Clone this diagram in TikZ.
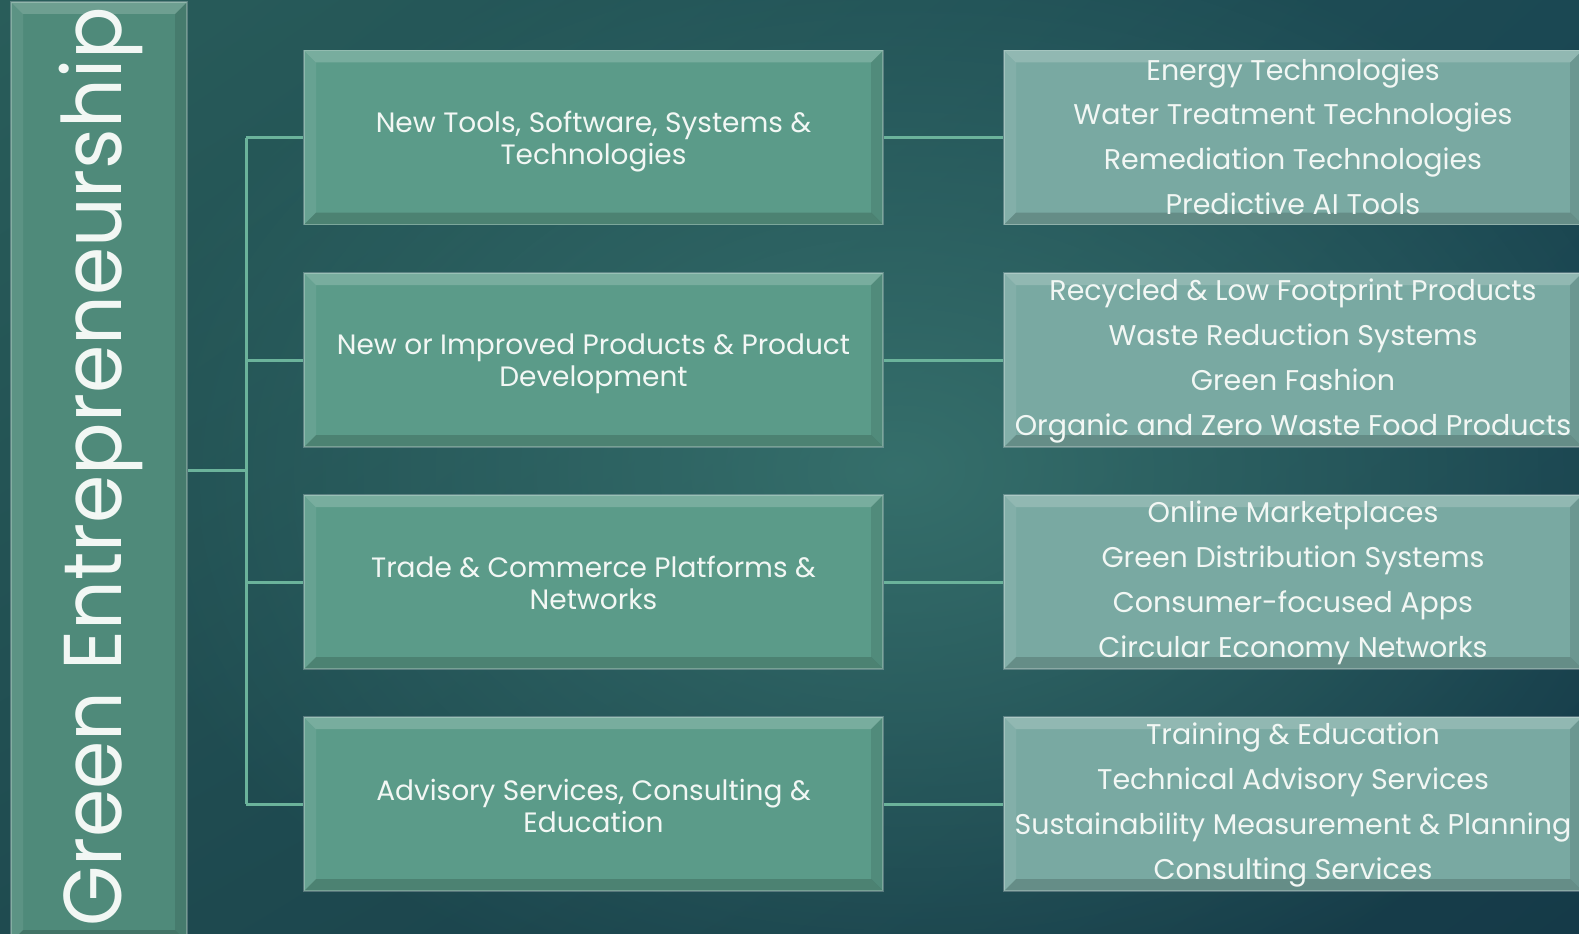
\documentclass[tikz,border=0pt]{standalone}
\usepackage{fontspec}
\usetikzlibrary{shadings,fadings}
\setmainfont{Poppins}
\newfontfamily\titlefont[FakeStretch=0.948]{Poppins}
\definecolor{bgA}{HTML}{295D5A}
\definecolor{bgB}{HTML}{1B4853}
\definecolor{bgC}{HTML}{1F4B50}
\definecolor{bgD}{HTML}{153A48}
\definecolor{bgL}{HTML}{3A7670}
\definecolor{leftc}{HTML}{4F8A7A}
\definecolor{midc}{HTML}{5B9B89}
\definecolor{rightc}{HTML}{79A9A2}
\definecolor{linec}{HTML}{6BB39B}
\definecolor{txt}{HTML}{F2F7F4}
\tikzfading[name=softglow, inner color=transparent!0, outer color=transparent!100]
\tikzset{
  bevel/.style={path picture={
    \fill[white,opacity=.18] (path picture bounding box.north west) -- (path picture bounding box.north east) -- ([xshift=-#1,yshift=-#1]path picture bounding box.north east) -- ([xshift=#1,yshift=-#1]path picture bounding box.north west) -- cycle;
    \fill[white,opacity=.08] (path picture bounding box.north west) -- (path picture bounding box.south west) -- ([xshift=#1,yshift=#1]path picture bounding box.south west) -- ([xshift=#1,yshift=-#1]path picture bounding box.north west) -- cycle;
    \fill[black,opacity=.10] (path picture bounding box.north east) -- (path picture bounding box.south east) -- ([xshift=-#1,yshift=#1]path picture bounding box.south east) -- ([xshift=-#1,yshift=-#1]path picture bounding box.north east) -- cycle;
    \fill[black,opacity=.16] (path picture bounding box.south west) -- (path picture bounding box.south east) -- ([xshift=-#1,yshift=#1]path picture bounding box.south east) -- ([xshift=#1,yshift=#1]path picture bounding box.south west) -- cycle;
  }},
  boxbase/.style={rectangle, inner sep=0pt, bevel=12pt, draw=white, draw opacity=.25, line width=1.5pt},
  midbox/.style={boxbase, fill=midc, minimum width=579pt, minimum height=174pt},
  rightbox/.style={boxbase, fill=rightc, minimum width=578pt, minimum height=174pt},
  leftbox/.style={boxbase, fill=leftc, minimum width=176pt, minimum height=940pt},
  midtext/.style={text=txt, align=center, inner sep=0pt, font=\fontsize{28}{32}\selectfont},
  righttext/.style={text=txt, align=center, inner sep=0pt, font=\fontsize{28.5}{44.8}\selectfont},
  conn/.style={draw=linec, line width=3pt},
}
\begin{document}
\begin{tikzpicture}[x=1pt,y=-1pt]
\useasboundingbox (0,0) rectangle (1579,934);
\shade[upper left=bgA, upper right=bgB, lower left=bgC, lower right=bgD] (0,0) rectangle (1579,934);
\fill[bgL, opacity=.85, path fading=softglow] (900,470) ellipse (800 and 560);
\node[leftbox] (L) at (99,472) {};
\node[txt, rotate=90, font=\titlefont\fontsize{82}{90}\selectfont, inner sep=0pt] (title) at (101,467) {Green Entrepreneurship};
\node[midbox] (m1) at (593.5,137.5) {};
\node[midbox] (m2) at (593.5,360) {};
\node[midbox] (m3) at (593.5,582) {};
\node[midbox] (m4) at (593.5,804) {};
\node[rightbox] (r1) at (1293,137.5) {};
\node[rightbox] (r2) at (1293,360) {};
\node[rightbox] (r3) at (1293,582) {};
\node[rightbox] (r4) at (1293,804) {};
\node[midtext] (m1t) at ([yshift=-4pt]m1.center) {New Tools, Software, Systems \&\\Technologies};
\node[midtext] (m2t) at ([yshift=-4pt]m2.center) {New or Improved Products \& Product\\Development};
\node[midtext] (m3t) at ([yshift=-1pt]m3.center) {Trade \& Commerce Platforms \&\\Networks};
\node[midtext] (m4t) at ([yshift=-2pt]m4.center) {Advisory Services, Consulting \&\\Education};
\node[righttext] (r1t) at ([yshift=1pt]r1.center) {Energy Technologies\\Water Treatment Technologies\\Remediation Technologies\\Predictive AI Tools};
\node[righttext] (r2t) at ([yshift=-1pt]r2.center) {Recycled \& Low Footprint Products\\Waste Reduction Systems\\Green Fashion\\Organic and Zero Waste Food Products};
\node[righttext] (r3t) at ([yshift=-1pt]r3.center) {Online Marketplaces\\Green Distribution Systems\\Consumer-focused Apps\\Circular Economy Networks};
\node[righttext] (r4t) at ([yshift=-1pt]r4.center) {Training \& Education\\Technical Advisory Services\\Sustainability Measurement \& Planning\\Consulting Services};
\coordinate (tTop) at (246,137.5);
\coordinate (tBot) at (246,804);
\coordinate (tMid) at (246,470);
\draw[conn] (tTop) -- (tBot);
\draw[conn] (L.east |- tMid) -- (tMid);
\foreach \i in {1,2,3,4}{
  \draw[conn] (tTop |- m\i.west) -- (m\i.west);
  \draw[conn] (m\i.east) -- (r\i.west);
}
\end{tikzpicture}
\end{document}
